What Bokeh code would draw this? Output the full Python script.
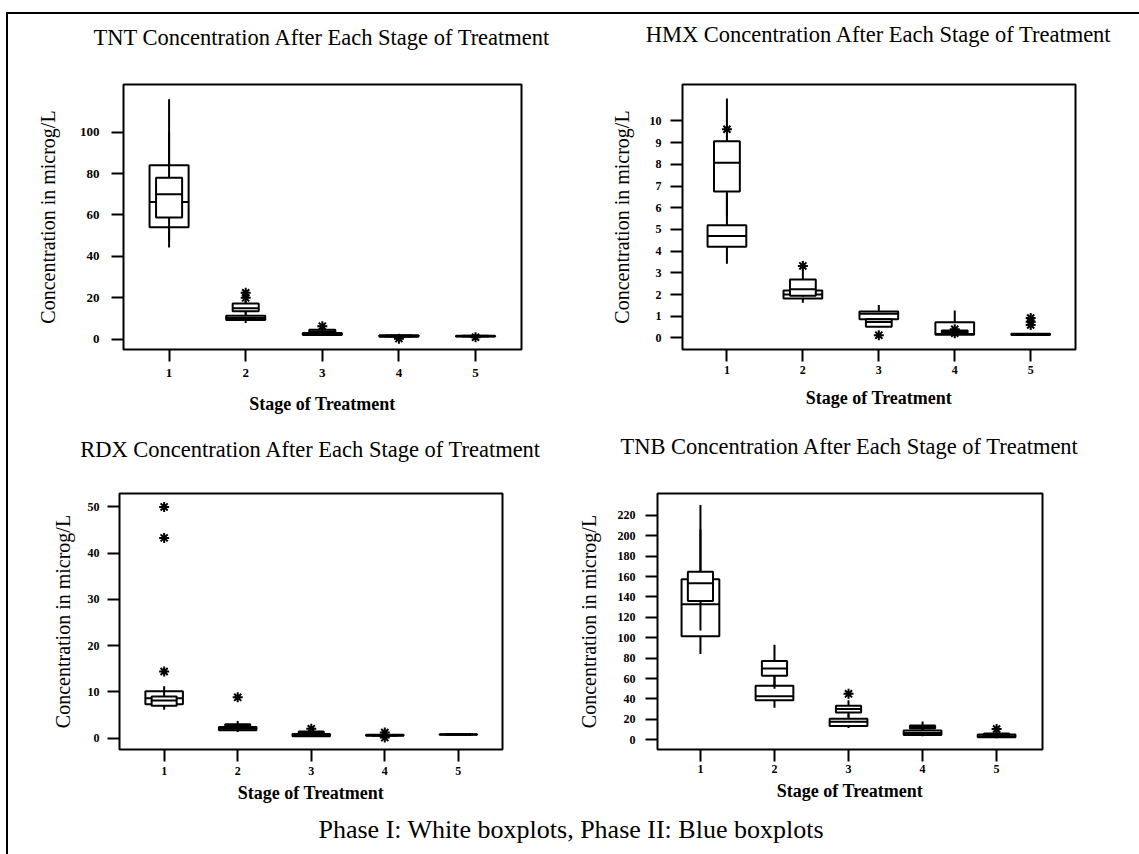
from bokeh.plotting import figure
from bokeh.models import Range1d, FixedTicker, Div, ColumnDataSource, Title
from bokeh.layouts import column, row
from bokeh.embed import file_html
from bokeh.resources import INLINE

stages = [1, 2, 3, 4, 5]
stage_ticks = [1, 2, 3, 4, 5]

# ---------------- TNT ----------------
tnt_p1_lo = [44.3, 7.8, 1.6, 1.1, 1.1]
tnt_p1_q1 = [54.1, 9.3, 2.0, 1.2, 1.3]
tnt_p1_med = [66.3, 10.3, 2.5, 1.5, 1.5]
tnt_p1_q3 = [84.0, 11.4, 3.0, 1.9, 1.7]
tnt_p1_hi = [100.0, 13.0, 3.5, 2.0, 1.8]
tnt_p2_lo = [48.0, 12.0, 2.5, 1.2, 1.3]
tnt_p2_q1 = [58.8, 13.5, 3.0, 1.3, 1.4]
tnt_p2_med = [70.0, 15.0, 3.8, 1.6, 1.5]
tnt_p2_q3 = [78.0, 17.3, 4.6, 1.8, 1.7]
tnt_p2_hi = [115.9, 18.6, 5.4, 2.0, 1.8]
tnt_out_stage = [2, 2, 3, 4, 5]
tnt_out_value = [22.4, 20.0, 6.3, 0.3, 1.0]
tnt_yticks = [0, 20, 40, 60, 80, 100]

# ---------------- HMX ----------------
hmx_p1_lo = [3.42, 1.62, 0.86, 0.14, 0.14]
hmx_p1_q1 = [4.20, 1.82, 0.86, 0.15, 0.14]
hmx_p1_med = [4.70, 2.00, 1.12, 0.18, 0.16]
hmx_p1_q3 = [5.20, 2.19, 1.22, 0.72, 0.19]
hmx_p1_hi = [6.70, 2.40, 1.52, 1.27, 0.20]
hmx_p2_lo = [5.60, 1.90, 0.50, 0.22, 0.15]
hmx_p2_q1 = [6.75, 1.95, 0.52, 0.25, 0.16]
hmx_p2_med = [8.07, 2.25, 0.74, 0.30, 0.17]
hmx_p2_q3 = [9.06, 2.70, 0.86, 0.35, 0.18]
hmx_p2_hi = [11.03, 3.14, 0.86, 0.45, 0.19]
hmx_out_stage = [1, 2, 3, 4, 4, 5, 5, 5]
hmx_out_value = [9.62, 3.32, 0.13, 0.40, 0.22, 0.92, 0.75, 0.60]
hmx_yticks = [0, 1, 2, 3, 4, 5, 6, 7, 8, 9, 10]

# ---------------- RDX ----------------
rdx_p1_lo = [6.1, 1.3, 0.3, 0.45, 0.65]
rdx_p1_q1 = [7.3, 1.7, 0.4, 0.5, 0.7]
rdx_p1_med = [8.6, 2.0, 0.6, 0.6, 0.75]
rdx_p1_q3 = [10.1, 2.4, 0.9, 0.7, 0.8]
rdx_p1_hi = [11.2, 2.6, 1.0, 0.8, 0.85]
rdx_p2_lo = [6.5, 2.0, 0.7, 0.5, 0.7]
rdx_p2_q1 = [7.0, 2.2, 0.8, 0.55, 0.72]
rdx_p2_med = [8.1, 2.6, 1.1, 0.6, 0.76]
rdx_p2_q3 = [9.0, 3.0, 1.4, 0.65, 0.8]
rdx_p2_hi = [10.0, 3.7, 1.7, 0.7, 0.82]
rdx_out_stage = [1, 1, 1, 2, 3, 4, 4]
rdx_out_value = [14.4, 43.3, 50.0, 8.8, 2.0, 1.2, 0.1]
rdx_yticks = [0, 10, 20, 30, 40, 50]

# ---------------- TNB ----------------
tnb_p1_lo = [84.1, 31.4, 11.5, 3.5, 1.5]
tnb_p1_q1 = [101.4, 38.7, 13.5, 4.5, 2.5]
tnb_p1_med = [132.7, 42.5, 17.5, 6.5, 3.5]
tnb_p1_q3 = [157.3, 53.0, 20.5, 9.0, 5.0]
tnb_p1_hi = [206.0, 62.0, 25.0, 10.0, 6.0]
tnb_p2_lo = [107.0, 50.0, 22.0, 9.0, 3.0]
tnb_p2_q1 = [135.9, 62.7, 26.6, 11.0, 4.0]
tnb_p2_med = [153.5, 69.7, 30.0, 12.5, 5.0]
tnb_p2_q3 = [164.7, 77.1, 33.3, 14.0, 6.0]
tnb_p2_hi = [230.2, 93.0, 38.7, 17.9, 8.0]
tnb_out_stage = [3, 5]
tnb_out_value = [45.0, 10.5]
tnb_yticks = [0, 20, 40, 60, 80, 100, 120, 140, 160, 180, 200, 220]

WIDE = 0.51
NARROW = 0.34
SERIF = "Liberation Serif"


def draw_boxes(p, lo, q1, med, q3, hi, w):
    src = ColumnDataSource(dict(
        x=stages, lo=lo, q1=q1, med=med, q3=q3, hi=hi,
        left=[s - w / 2 for s in stages], right=[s + w / 2 for s in stages]))
    kw = dict(source=src, line_color="black", line_width=2)
    p.segment(x0="x", y0="lo", x1="x", y1="q1", **kw)
    p.segment(x0="x", y0="q3", x1="x", y1="hi", **kw)
    p.vbar(x="x", width=w, bottom="q1", top="q3", fill_color="white", **kw)
    p.segment(x0="left", y0="med", x1="right", y1="med", **kw)


def make(title, width, height, borders, xr, yr, yticks, data, outs, cfg):
    p = figure(width=width, height=height, title_location=None,
               x_range=Range1d(*xr), y_range=Range1d(*yr),
               output_backend="svg", toolbar_location=None,
               min_border_left=borders[0], min_border_right=borders[1],
               min_border_top=borders[2], min_border_bottom=borders[3])
    spacer = Title(text=" ", text_font_size="1px", standoff=cfg["gap"])
    p.add_layout(spacer, "above")
    t = Title(text=title, align="center", text_font=SERIF, text_font_size="22.5px",
              text_font_style="normal", text_color="black", standoff=0)
    p.add_layout(t, "above")
    p.outline_line_color = "black"
    p.outline_line_width = 2
    p.outline_line_alpha = 1
    p.background_fill_color = "white"
    p.border_fill_color = "white"
    p.xgrid.visible = False
    p.ygrid.visible = False
    for ax in (p.xaxis[0], p.yaxis[0]):
        ax.axis_line_color = None
        ax.major_tick_line_color = "black"
        ax.major_tick_line_width = 2
        ax.major_tick_in = 0
        ax.major_tick_out = 12
        ax.minor_tick_line_color = None
        ax.major_label_text_font = SERIF
        ax.major_label_text_font_style = "bold"
        ax.major_label_text_font_size = cfg["tick_size"]
        ax.major_label_text_color = "black"
    p.xaxis[0].ticker = FixedTicker(ticks=stage_ticks)
    p.yaxis[0].ticker = FixedTicker(ticks=yticks)
    p.xaxis[0].major_label_standoff = cfg["xls"]
    p.yaxis[0].major_label_standoff = cfg["yls"]
    p.xaxis[0].axis_label = "Stage of Treatment"
    p.xaxis[0].axis_label_text_font = SERIF
    p.xaxis[0].axis_label_text_font_style = "bold"
    p.xaxis[0].axis_label_text_font_size = "18px"
    p.xaxis[0].axis_label_text_color = "black"
    p.xaxis[0].axis_label_standoff = cfg["xas"]
    p.yaxis[0].axis_label = "Concentration in microg/L"
    p.yaxis[0].axis_label_text_font = SERIF
    p.yaxis[0].axis_label_text_font_style = "normal"
    p.yaxis[0].axis_label_text_font_size = "20px"
    p.yaxis[0].axis_label_text_color = "black"
    p.yaxis[0].axis_label_standoff = cfg["yas"]

    (a_lo, a_q1, a_med, a_q3, a_hi, b_lo, b_q1, b_med, b_q3, b_hi) = data
    draw_boxes(p, a_lo, a_q1, a_med, a_q3, a_hi, WIDE)
    draw_boxes(p, b_lo, b_q1, b_med, b_q3, b_hi, NARROW)
    p.scatter(x=outs[0], y=outs[1], marker="asterisk", size=10,
              line_color="black", line_width=2)
    return p


p1 = make("TNT Concentration After Each Stage of Treatment", 562, 411,
          (115, 49, 70, 72), (0.405, 5.60), (-4.95, 123.0), tnt_yticks,
          (tnt_p1_lo, tnt_p1_q1, tnt_p1_med, tnt_p1_q3, tnt_p1_hi,
           tnt_p2_lo, tnt_p2_q1, tnt_p2_med, tnt_p2_q3, tnt_p2_hi),
          (tnt_out_stage, tnt_out_value),
          dict(gap=32, tick_size="13px", xls=7, yls=12, xas=14, yas=18))

p2 = make("HMX Concentration After Each Stage of Treatment", 569, 411,
          (112, 64, 67, 76), (0.415, 5.59), (-0.53, 11.68), hmx_yticks,
          (hmx_p1_lo, hmx_p1_q1, hmx_p1_med, hmx_p1_q3, hmx_p1_hi,
           hmx_p2_lo, hmx_p2_q1, hmx_p2_med, hmx_p2_q3, hmx_p2_hi),
          (hmx_out_stage, hmx_out_value),
          dict(gap=35, tick_size="12px", xls=4, yls=9, xas=11, yas=14))

p3 = make("RDX Concentration After Each Stage of Treatment", 562, 387,
          (111, 68, 68, 58), (0.393, 5.60), (-2.48, 52.9), rdx_yticks,
          (rdx_p1_lo, rdx_p1_q1, rdx_p1_med, rdx_p1_q3, rdx_p1_hi,
           rdx_p2_lo, rdx_p2_q1, rdx_p2_med, rdx_p2_q3, rdx_p2_hi),
          (rdx_out_stage, rdx_out_value),
          dict(gap=29, tick_size="12px", xls=5, yls=8, xas=5, yas=11))

p4 = make("TNB Concentration After Each Stage of Treatment", 569, 387,
          (87, 97, 62, 63), (0.42, 5.62), (-9.6, 241.4), tnb_yticks,
          (tnb_p1_lo, tnb_p1_q1, tnb_p1_med, tnb_p1_q3, tnb_p1_hi,
           tnb_p2_lo, tnb_p2_q1, tnb_p2_med, tnb_p2_q3, tnb_p2_hi),
          (tnb_out_stage, tnb_out_value),
          dict(gap=32, tick_size="12px", xls=3, yls=10, xas=5, yas=15))

cap = Div(text='<div style="font-family: \'Liberation Serif\', serif; font-size: 26px; '
               'color: black; text-align: center; width: 1116px; margin-top: -6px;">'
               'Phase I: White boxplots, Phase II: Blue boxplots</div>',
          width=1131, height=36)

layout = column(row(p1, p2), row(p3, p4), cap, margin=(12, 0, 0, 6),
                styles={"border-top": "2px solid black", "border-left": "2px solid black",
                        "background-color": "white"})

open("out.html", "w").write(file_html(layout, INLINE))
